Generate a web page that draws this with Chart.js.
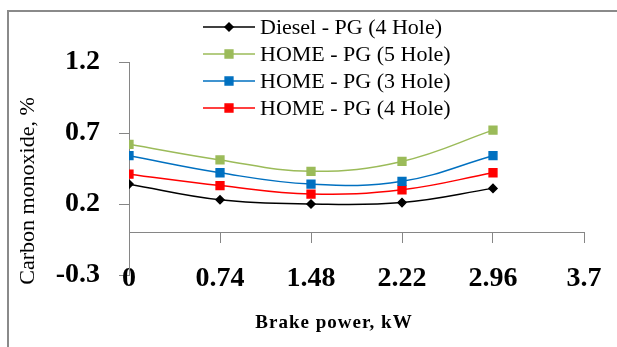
<!DOCTYPE html>
<html>
<head>
<meta charset="utf-8">
<script src="https://cdn.jsdelivr.net/npm/chart.js@4.4.1/dist/chart.umd.min.js"></script>
<style>
  html, body { margin: 0; padding: 0; background: #fff; }
  #wrap { width: 617px; height: 347px; position: relative; }
</style>
</head>
<body>
<div id="wrap"><canvas id="myChart" width="617" height="347"></canvas></div>
<script>
const ctx = document.getElementById("myChart").getContext("2d");

// Brake power (kW) and CO (%)
const brakePower = [0, 0.74, 1.48, 2.22, 2.96];
const xTicks = [0, 0.74, 1.48, 2.22, 2.96, 3.7];
const yTicks = [-0.3, 0.2, 0.7, 1.2];

const dieselPG4 = [0.34, 0.23, 0.20, 0.21, 0.31];
const homePG5 = [0.62, 0.51, 0.43, 0.50, 0.72];
const homePG3 = [0.54, 0.42, 0.34, 0.36, 0.54];
const homePG4 = [0.41, 0.33, 0.27, 0.30, 0.42];

const serif = "'Liberation Serif', 'Times New Roman', serif";

function toPoints(values) {
  return brakePower.map((x, i) => ({ x: x, y: values[i] }));
}

function makeSet(label, values, color, style, radius) {
  return {
    label: label,
    data: toPoints(values),
    borderColor: color,
    backgroundColor: color,
    borderWidth: 1.5,
    pointStyle: style,
    pointRadius: radius,
    pointHoverRadius: radius,
    tension: 0.4,
    xAxisID: "x",
  };
}

// no extra side padding from the tick labels
function noSidePad(scale) {
  scale.paddingLeft = 0;
  scale.paddingRight = 0;
}

// Outer frame of the figure
const framePlugin = {
  id: "frame",
  beforeDraw(chart) {
    const c = chart.ctx;
    c.save();
    c.strokeStyle = "#8a8a8a";
    c.lineWidth = 2;
    c.strokeRect(8, 11, 700, 400);
    c.restore();
  },
};

// Legend sits over the top of the plot; axis titles are off-centre in the original
const textPlugin = {
  id: "boxLegend",
  afterDraw(chart) {
    const c = chart.ctx;
    c.save();
    chart.data.datasets.forEach((ds, i) => {
      const y = 27 + i * 27;
      c.strokeStyle = ds.borderColor;
      c.lineWidth = 1.5;
      c.beginPath();
      c.moveTo(203, y);
      c.lineTo(255, y);
      c.stroke();
      c.fillStyle = ds.backgroundColor;
      c.strokeStyle = ds.borderColor;
      Chart.helpers.drawPoint(c, { pointStyle: ds.pointStyle, radius: ds.pointRadius, borderWidth: 1 }, 229, y);
      c.fillStyle = "#000";
      c.font = "22px " + serif;
      c.textBaseline = "middle";
      c.textAlign = "left";
      c.fillText(ds.label, 260, y + 1);
    });

    // x title
    c.font = "bold 19px " + serif;
    c.textAlign = "center";
    c.textBaseline = "middle";
    c.letterSpacing = "1px";
    c.fillText("Brake power, kW", 334, 323);
    c.letterSpacing = "0px";

    // y title
    c.translate(28, 191);
    c.rotate(-Math.PI / 2);
    c.font = "22px " + serif;
    c.fillText("Carbon monoxide, %", 0, 0);
    c.restore();
  },
};

new Chart(ctx, {
  type: "line",
  data: {
    datasets: [
      makeSet("Diesel - PG (4 Hole)", dieselPG4, "#000000", "rectRot", 4),
      makeSet("HOME - PG (5 Hole)", homePG5, "#9BBB59", "rect", 5.5),
      makeSet("HOME - PG (3 Hole)", homePG3, "#0070C0", "rect", 5.5),
      makeSet("HOME - PG (4 Hole)", homePG4, "#FF0000", "rect", 5.5),
    ],
  },
  options: {
    responsive: false,
    animation: false,
    layout: { padding: { top: 62, right: 33, left: 0, bottom: 0 } },
    plugins: {
      legend: { display: false },
      tooltip: { enabled: false },
    },
    scales: {
      x: {
        type: "linear",
        min: 0,
        max: 3.7,
        position: { y: 0 },
        afterBuildTicks: (scale) => { scale.ticks = xTicks.map((v) => ({ value: v })); },
        afterFit: noSidePad,
        ticks: {
          padding: 20,
          color: "#000",
          maxRotation: 0,
          font: { family: serif, size: 28, weight: "bold" },
          callback: (v) => String(Math.round(v * 100) / 100),
        },
        grid: { drawOnChartArea: false, drawTicks: true, tickLength: 10, color: "#868686" },
        border: { color: "#868686", width: 1 },
      },
      x2: {
        type: "linear",
        position: "bottom",
        min: 0,
        max: 3.7,
        afterFit: (scale) => { scale.height = 72; noSidePad(scale); },
        ticks: { display: false },
        grid: { display: false, drawTicks: false },
        border: { display: false },
      },
      y: {
        min: -0.3,
        max: 1.2,
        afterBuildTicks: (scale) => { scale.ticks = yTicks.map((v) => ({ value: v })); },
        afterFit: (scale) => { scale.width = 129; },
        ticks: {
          padding: 19,
          color: "#000",
          font: { family: serif, size: 28, weight: "bold" },
          callback: (v) => String(Math.round(v * 10) / 10),
        },
        grid: { drawOnChartArea: false, tickLength: 10, color: "#868686" },
        border: { color: "#868686", width: 1 },
      },
    },
  },
  plugins: [framePlugin, textPlugin],
});
</script>
</body>
</html>
